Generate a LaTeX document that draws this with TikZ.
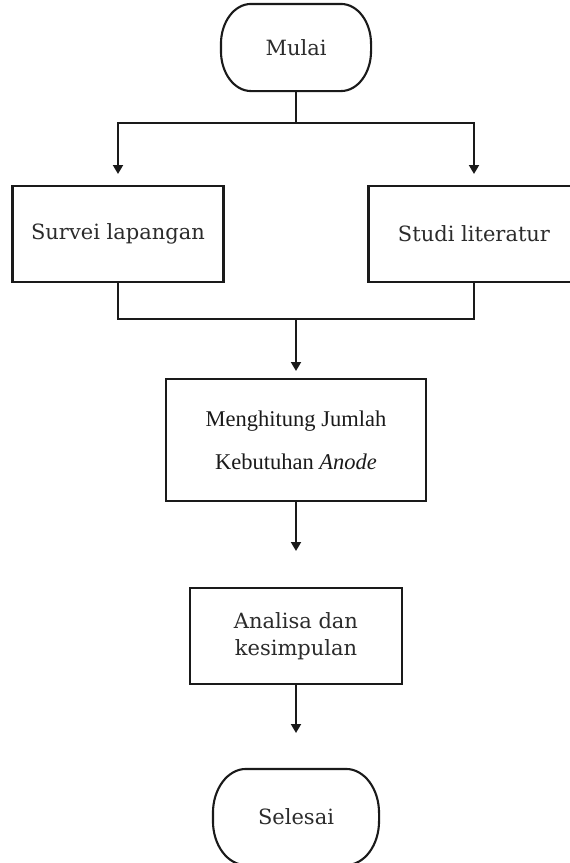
\documentclass[tikz,border=0pt]{standalone}
\usepackage{fontspec}
\setmainfont{DejaVu Serif}
\newfontfamily\timesf{Liberation Serif}
\usetikzlibrary{arrows.meta}
\definecolor{ink}{HTML}{1A1A1A}
\definecolor{txt}{HTML}{2B2B2B}
\newcommand\pilloutline[3]{% node name, x radius, y radius
  \draw[line width=2.1pt, draw=ink]
    ([xshift=#2]#1.north west) -- ([xshift=-#2]#1.north east)
    arc[start angle=90, end angle=0, x radius=#2, y radius=#3]
    -- ([yshift=#3]#1.south east)
    arc[start angle=0, end angle=-90, x radius=#2, y radius=#3]
    -- ([xshift=#2]#1.south west)
    arc[start angle=270, end angle=180, x radius=#2, y radius=#3]
    -- ([yshift=-#3]#1.north west)
    arc[start angle=180, end angle=90, x radius=#2, y radius=#3] -- cycle;}
\begin{document}
\begin{tikzpicture}[x=1pt,y=-1pt,
  line width=1.9pt, draw=ink,
  procbox/.style={draw=ink, line width=2.1pt, rectangle, inner sep=0pt, align=center,
    text=txt, font=\fontsize{21}{27}\selectfont},
  termbox/.style={procbox, draw=none},
  arr/.style={-{Triangle[length=9pt,width=10pt]}}]
\useasboundingbox (0,0) rectangle (570,863);

\node[termbox, minimum width=148pt, minimum height=85pt] (mulai) at (296,47.5) {Mulai};
\node[procbox, minimum width=211pt, minimum height=96pt] (survei) at (118,234) {Survei lapangan};
\node[procbox, minimum width=211pt, minimum height=96pt] (studi) at (474,234) {Studi literatur};
\node[procbox, minimum width=260pt, minimum height=122pt,
      font=\timesf\fontsize{22.5}{43}\selectfont, text=ink] (hitung) at (296,440)
      {Menghitung Jumlah\\Kebutuhan \textit{Anode}};
\node[procbox, minimum width=212pt, minimum height=96pt] (analisa) at (296,636) {Analisa dan\\kesimpulan};
\node[termbox, minimum width=164pt, minimum height=94pt] (selesai) at (296,817) {Selesai};
\pilloutline{mulai}{30pt}{40pt}
\pilloutline{selesai}{33pt}{44pt}

\coordinate (j1) at (296,123);
\coordinate (a1) at (118,174);
\coordinate (a2) at (474,174);
\coordinate (j2) at (296,319);
\coordinate (a3) at (296,371);
\coordinate (a4) at (296,551);
\coordinate (a5) at (296,733);

\draw (mulai.south) -- (j1);
\draw[arr] (j1) -| (a1);
\draw[arr] (j1) -| (a2);
\draw (survei.south) |- (j2);
\draw (studi.south) |- (j2);
\draw[arr] (j2) -- (a3);
\draw[arr] (hitung.south) -- (a4);
\draw[arr] (analisa.south) -- (a5);
\end{tikzpicture}
\end{document}
